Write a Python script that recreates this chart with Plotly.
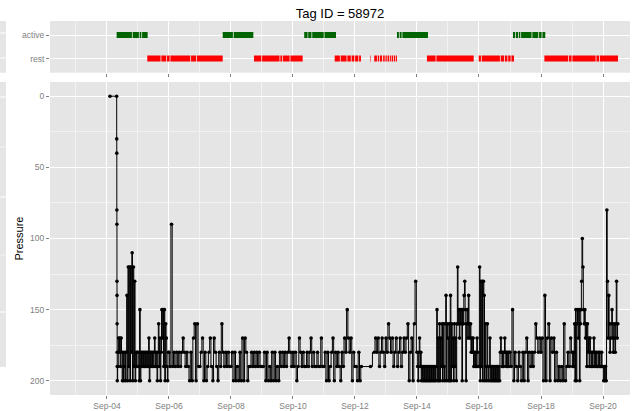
import pandas as pd
import plotly.graph_objects as go

title_text = "Tag ID = 58972"
origin = "2013-09-04"

# early part of the record: surface readings, then the first descent
early_times = ["2013-09-04 02:20", "2013-09-04 07:30", "2013-09-04 07:33", "2013-09-04 07:36",
               "2013-09-04 07:39", "2013-09-04 07:42", "2013-09-04 07:45", "2013-09-04 07:48",
               "2013-09-04 07:51", "2013-09-04 07:54", "2013-09-04 07:57"]
early_pressure = [0, 0, 30, 40, 80, 90, 130, 140, 160, 180, 190]

# pressure readings per day, evenly spaced over each day's span (None = no reading)
p_sep04 = [200, 190, 170, 180, 170, 190, 170, 180, 200, 180, 200, 190, 180, 200, 180, 140,
           200, 120, 190, 120, 200, 120, 180, 110, 200, 120, 190, 130, 200, 180, 190, 180]
p_sep05 = [180, 190, 200, 150, 200, 180, 190, 180, 190, 180, 190, 180, 190, 180, 190, 180,
           190, 170, 200, 180, 190, 180, 190, 180, 190, 180, 170, 190, 180, 190, 200, 180,
           160, 190, 170, 200, 180, 150, 170, 150, 190, 150, 200, 160, 170, 190, 200, 180]
p_sep06 = [180, 190, 90, 190, 180, 190, 180, 190, 180, 190, 180, 170, 180, 190, 180, 190, 200, 180, 200, 170, 160, 200, 160, 190]
p_sep07 = [190, 180, 170, 200, 180, 200, 190, 180, 170, 190, 200, 170, 180, 190, 200, 180, 190, 160, 180, 190, 180, 190, 180, 190]
p_sep08 = [190, 180, 200, 180, 200, 190, 200, 180, 200, 170, 200, 170, 180, 200, 190, 190, 180, 190, 180, 190, 180, 190, 180, 190]
p_sep09 = [190, 190, 180, 200, 180, 200, 190, 200, 180, 200, 180, 200, 190, 200, 180, 190, 180, 190, 180, 190, 180, 170, 180, 190]
p_sep10 = [180, 190, 180, 200, 190, 170, 180, 190, 180, 190, 190, 180, 190, 180, 170, 190, 180, 190, 190, 180, 190, 190, 170, 190]
p_sep11 = [190, 180, 200, 180, 200, 190, 180, 170, 200, 180, 190, 180, 190, 200, 180, 190, 170, 180, 150, 170, 180, 170, 200, 180]
p_sep12 = [190, 190, 200, 180, 200, 190, None, None, None, None, None, None, 190, None, None, 180, 170, 180, 170, 190, 180, 170, 180, 190]
p_sep13 = [170, 180, 160, 170, 180, 170, 190, 180, 170, 190, 180, 170, 190, 180, 170, 180, 170, 160, 200, 180, 170, 200, 160, 130]
p_sep14 = [180, 190, 200, 180, 170, 190, 180, 200, 190, 200, 190, 200, 190, 200, 190, 200,
           190, 200, 190, 200, 190, 200, 190, 200, 190, 200, 190, 200, 190, 200, 190, 150,
           200, 170, 200, 160, 200, 170, 190, 160, 200, 160, 190, 200, 160, 140, 200, 160]
p_sep15 = [170, 200, 160, 200, 140, 200, 160, 190, 170, 200, 160, 190, 170, 200, 160, 120,
           160, 150, 170, 150, 160, 150, 200, 150, 160, 140, 130, 150, 200, 160, 150, 170,
           140, 160, 170, 160, 180, 170, 180, 170, 190, 180, 190, 180, 190, 170, 180, 190]
p_sep16 = [190, 120, 200, 130, 190, 130, 200, 130, 140, 200, 160, 190, 200, 160, 190, 200,
           190, 170, 200, 190, 200, 190, 200, 190, 200, 190, 200, 190, 200, 190, 200, 190,
           200, 180, 170, 180, 190, 180, 190, 180, 170, 180, 190, 180, 190, 180, 190, 180]
p_sep17 = [180, 190, 150, 200, 180, 190, 200, 180, 190, 200, 180, 200, 180, 170, 200, 180, 190, 180, 190, 180, 160, 170, 180, 170]
p_sep18 = [180, 170, 200, 140, 200, 170, 160, 200, 170, 180, 170, 200, 180, 200, 190, 200, 190, 200, 160, 200, 190, 180, 190, 170]
p_sep19 = [180, 190, 180, 190, 160, 200, 150, 200, 160, 150, 170, 150, 200, 160, 150, 130,
           100, 120, 150, 160, 150, 170, 160, 190, 160, 180, 170, 190, 170, 180, 190, 180,
           190, 180, 170, 190, 180, 190, 180, 190, 190, 180, 190, 180, 190, 190, 180, 190]
p_sep20 = [190, 200, 190, 200, 190, 200, 80, 130, 170, 140, 160, 180, 170, 160, 150, 170,
           180, 160, 170, 180, 160, 130, 170, 160]

day_values = [p_sep04, p_sep05, p_sep06, p_sep07, p_sep08, p_sep09, p_sep10, p_sep11, p_sep12,
              p_sep13, p_sep14, p_sep15, p_sep16, p_sep17, p_sep18, p_sep19, p_sep20]
day_starts = ["2013-09-04 08:00", "2013-09-05", "2013-09-06", "2013-09-07", "2013-09-08",
              "2013-09-09", "2013-09-10", "2013-09-11", "2013-09-12", "2013-09-13", "2013-09-14",
              "2013-09-15", "2013-09-16", "2013-09-17", "2013-09-18", "2013-09-19", "2013-09-20"]
day_spans_h = [16, 24, 24, 24, 24, 24, 24, 24, 24, 24, 24, 24, 24, 24, 24, 24, 12]

# behaviour state intervals, hours since origin
active_start_h = [7.5, 19.9, 25.3, 27.2, 89.6, 98.1, 152.7, 155.8, 158.9, 168.4, 224.5, 226.6, 228.7,
                  314.3, 316.6, 318.8, 320.6, 329.3, 334.5, 337.1]
active_end_h = [19.3, 24.7, 26.6, 31.5, 97.5, 113.3, 155.3, 158.3, 167.8, 177.3, 226.0, 228.1, 248.5,
                316.0, 318.2, 320.0, 328.7, 333.9, 336.5, 339.3]
rest_start_h = [31.2, 42.1, 46.5, 49.1, 65.1, 69.7, 113.8, 120.1, 134.2, 136.3, 142.0, 176.3, 180.9,
                186.1, 189.4, 192.1, 195.2, 203.7, 206.9, 209.6, 211.2, 213.8, 215.6, 217.2, 218.9,
                220.4, 222.1, 223.8, 247.7, 255.0, 287.8, 290.1, 304.8, 308.1, 310.6, 313.1, 338.6,
                357.7, 360.3, 378.9, 381.5]
rest_end_h = [41.5, 45.9, 48.5, 64.5, 69.1, 89.6, 119.5, 133.6, 135.7, 141.4, 151.5, 180.3, 185.5,
              188.8, 191.5, 194.6, 196.6, 204.1, 209.0, 210.6, 213.0, 215.0, 216.6, 218.3, 219.8,
              221.5, 223.2, 224.5, 254.4, 283.9, 289.5, 304.2, 307.5, 310.0, 312.5, 315.1, 357.1,
              359.7, 378.3, 380.9, 395.6]

state_labels = ["rest", "active"]
pressure_ticks = [0, 50, 100, 150, 200]

# ---------------------------------------------------------------------------
times = list(pd.to_datetime(early_times))
pressure = list(early_pressure)
for start, span, vals in zip(day_starts, day_spans_h, day_values):
    st = pd.Timestamp(start)
    step = pd.Timedelta(hours=span) / len(vals)
    for i, v in enumerate(vals):
        times.append(st + i * step)
        pressure.append(v)

t0 = pd.Timestamp(origin)


def hrs(h):
    return t0 + pd.Timedelta(hours=h)


def segs(starts, ends, label):
    xs, ys = [], []
    for s, e in zip(starts, ends):
        xs += [hrs(s), hrs(e), None]
        ys += [label, label, None]
    return xs, ys


FONT = "Liberation Sans, Arial, sans-serif"
GREY_TXT = "#7F7F7F"
BG = "#E5E5E5"
MINOR = "#F2F2F2"

fig = go.Figure()
ax, ay = segs(active_start_h, active_end_h, "active")
rx, ry = segs(rest_start_h, rest_end_h, "rest")
fig.add_trace(go.Scatter(x=rx, y=ry, mode="lines", line=dict(color="#FF0000", width=6),
                         xaxis="x", yaxis="y", showlegend=False, hoverinfo="skip"))
fig.add_trace(go.Scatter(x=ax, y=ay, mode="lines", line=dict(color="#006400", width=6),
                         xaxis="x", yaxis="y", showlegend=False, hoverinfo="skip"))
fig.add_trace(go.Scatter(x=times, y=pressure, mode="lines+markers", connectgaps=True,
                         line=dict(color="black", width=1, shape="hvh"),
                         marker=dict(color="black", size=3.6),
                         xaxis="x2", yaxis="y2", showlegend=False))

xr = [hrs(-44.1), hrs(404.9)]
xcommon = dict(type="date", range=xr, tick0=origin, dtick=2 * 86400000,
               showgrid=True, gridcolor="white", gridwidth=1.1, zeroline=False,
               ticks="outside", ticklen=3, tickcolor=GREY_TXT, tickwidth=1,
               showline=False, automargin=False,
               minor=dict(dtick=86400000, tick0=origin, showgrid=True, gridcolor=MINOR, gridwidth=0.5, ticks=""))

layout = dict(
    width=632, height=411,
    margin=dict(l=50, r=2, t=21, b=16),
    paper_bgcolor="white", plot_bgcolor=BG,
    font=dict(family=FONT, color=GREY_TXT, size=9),
    title=dict(text=title_text, x=0.5, xref="paper", xanchor="center", y=1 - 13.5 / 411,
               yref="container", yanchor="middle", font=dict(size=13, color="black", family=FONT)),
    xaxis=dict(xcommon, anchor="y", showticklabels=False, matches="x2"),
    xaxis2=dict(xcommon, anchor="y2", tickformat="%b-%d", tickfont=dict(size=8.5, color=GREY_TXT)),
    yaxis=dict(domain=[0.8618, 1.0], type="category", categoryorder="array", categoryarray=state_labels,
               range=[-0.6, 1.6], showgrid=True, gridcolor="white", gridwidth=1.1, zeroline=False,
               ticks="outside", ticklen=3, tickcolor=GREY_TXT, tickfont=dict(size=8.5, color=GREY_TXT),
               automargin=False),
    yaxis2=dict(domain=[0.0, 0.8369], range=[210, -10], tickvals=pressure_ticks,
                showgrid=True, gridcolor="white", gridwidth=1.1, zeroline=False,
                ticks="outside", ticklen=3, tickcolor=GREY_TXT, tickfont=dict(size=8.5, color=GREY_TXT),
                minor=dict(tickvals=[25, 75, 125, 175], showgrid=True, gridcolor=MINOR, gridwidth=0.5, ticks=""),
                title=dict(text="Pressure", font=dict(size=11, color="black", family=FONT), standoff=4),
                automargin=False),
)
fig.update_layout(**layout)

# partial neighbouring panels visible at the far left edge
strip_x0, strip_x1 = -50 / 580, -44 / 580
shapes = [
    dict(type="rect", xref="paper", yref="paper", x0=strip_x0, x1=strip_x1, y0=0.8618, y1=1.0,
         fillcolor=BG, line=dict(width=0), layer="below"),
    dict(type="rect", xref="paper", yref="paper", x0=strip_x0, x1=strip_x1, y0=0.0749, y1=0.8369,
         fillcolor=BG, line=dict(width=0), layer="below"),
]
for yy, col in [(0.9679, "white"), (0.9011, "white"), (0.7968, "white"), (0.5294, "white"),
                (0.2219, "white"), (0.6631, MINOR), (0.3743, MINOR)]:
    shapes.append(dict(type="line", xref="paper", yref="paper", x0=strip_x0, x1=strip_x1, y0=yy, y1=yy,
                       line=dict(color=col, width=1), layer="below"))
fig.update_layout(shapes=shapes)

fig.write_html("out.html", include_plotlyjs=True, full_html=True,
               config={"displayModeBar": False},
               post_script="document.body.style.margin='0';")
